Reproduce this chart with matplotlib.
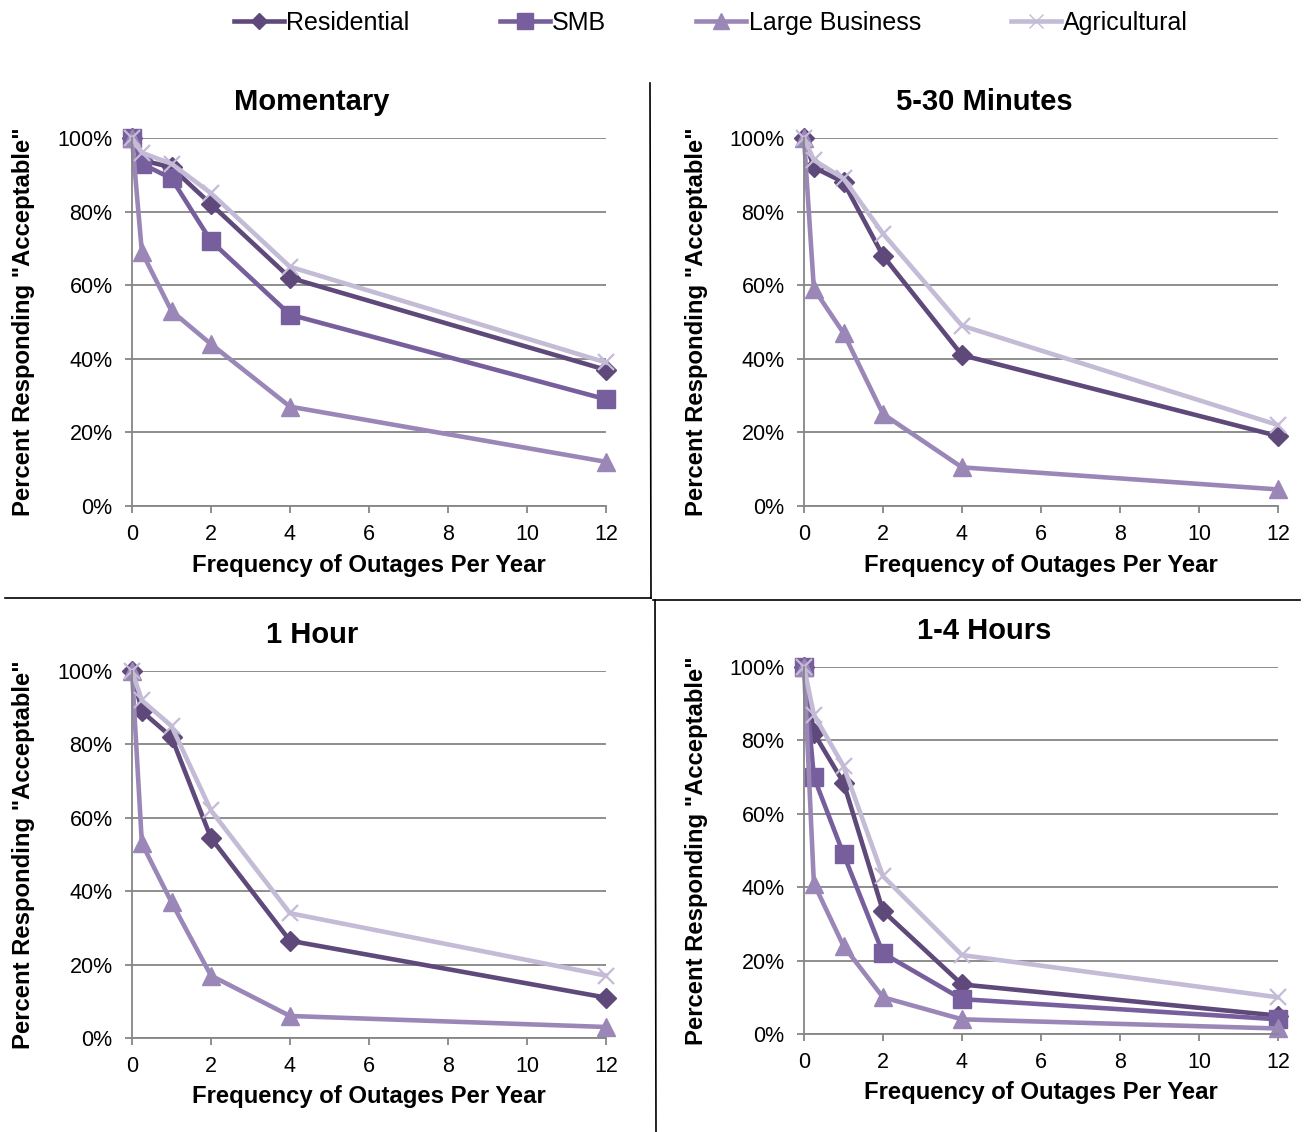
import matplotlib
matplotlib.use("Agg")
from matplotlib import pyplot as plt
from matplotlib.lines import Line2D

plt.rcParams['font.family'] = ['Liberation Sans', 'DejaVu Sans']

# outage frequencies per year
freq = [0, 0.25, 1, 2, 4, 12]

series = ['Residential', 'SMB', 'Large Business', 'Agricultural']
colors = ['#5f497a', '#775f9d', '#9b87b7', '#c4bbd6']
markers = ['D', 's', '^', 'x']
msizes = [10, 13.5, 13, 12]

panels = ['Momentary', '5-30 Minutes', '1 Hour', '1-4 Hours']

# percent responding "acceptable" per panel, one list per customer class
momentary_res = [100, 94, 92, 82, 62, 37]
momentary_smb = [100, 93, 89, 72, 52, 29]
momentary_large = [100, 69, 53, 44, 27, 12]
momentary_agri = [100, 96, 93, 85, 65, 39]

min530_res = [100, 92, 88, 68, 41, 19]
min530_smb = None
min530_large = [100, 59, 47, 25, 10.5, 4.5]
min530_agri = [100, 94, 89, 74, 49, 22]

hour1_res = [100, 89, 82, 54.5, 26.5, 11]
hour1_smb = None
hour1_large = [100, 53, 37, 17, 6, 3]
hour1_agri = [100, 92, 85, 62, 34, 17]

hour14_res = [100, 82, 68.5, 33.5, 13.5, 5]
hour14_smb = [100, 70, 49, 22, 9.5, 4]
hour14_large = [100, 41, 24, 10, 4, 1.5]
hour14_agri = [100, 87, 73, 43, 21.5, 10]

data = [
    [momentary_res, momentary_smb, momentary_large, momentary_agri],
    [min530_res, min530_smb, min530_large, min530_agri],
    [hour1_res, hour1_smb, hour1_large, hour1_agri],
    [hour14_res, hour14_smb, hour14_large, hour14_agri],
]

W, H = 1306, 1132
fig = plt.figure(figsize=(W / 100, H / 100), dpi=100)

# axes boxes in pixels: left, top, right, bottom
boxes = [(132, 138, 606, 506), (804, 138, 1278, 506),
         (132, 671, 606, 1038), (804, 667, 1278, 1034)]
title_pos = [(312, 102), (984, 102), (312, 635), (984, 631)]

grid_c = '#868686'
for i, (l, t, r, b) in enumerate(boxes):
    ax = fig.add_axes([l / W, 1 - b / H, (r - l) / W, (b - t) / H])
    for s, vals in enumerate(data[i]):
        if vals is None:
            continue
        ax.plot(freq, vals, color=colors[s], lw=3.3, marker=markers[s],
                ms=msizes[s], mec=colors[s], mfc=colors[s],
                mew=1.6 if markers[s] == 'x' else 1, clip_on=False)
    ax.set_xlim(0, 12)
    ax.set_ylim(0, 100)
    ax.set_xticks(range(0, 13, 2))
    ax.set_yticks(range(0, 101, 20))
    ax.set_yticklabels([f'{v}%' for v in range(0, 101, 20)])
    ax.yaxis.grid(True, color=grid_c, lw=1.3)
    ax.set_axisbelow(True)
    for sp in ['top', 'right']:
        ax.spines[sp].set_visible(False)
    for sp in ['left', 'bottom']:
        ax.spines[sp].set_color(grid_c)
        ax.spines[sp].set_linewidth(1.3)
    ax.tick_params(colors=grid_c, labelcolor='black', labelsize=15.5,
                   length=5, width=1.3)
    ax.tick_params(axis='x', pad=8)
    ax.tick_params(axis='y', pad=9)
    ax.set_xlabel('Frequency of Outages Per Year', fontsize=17.2,
                  fontweight='bold', va='center')
    ax.set_ylabel('Percent Responding "Acceptable"', fontsize=17.2,
                  fontweight='bold', va='center')
    ax.xaxis.set_label_coords(237 / 474, -59 / (b - t))
    ax.yaxis.set_label_coords(-108 / 474, 0.5)
    tx, ty = title_pos[i]
    fig.text(tx / W, 1 - ty / H, panels[i], fontsize=21, fontweight='bold',
             ha='center', va='center')

# quadrant dividers
def seg(x0, y0, x1, y1):
    fig.add_artist(Line2D([x0 / W, x1 / W], [1 - y0 / H, 1 - y1 / H],
                          color='black', lw=1.2))

seg(650, 83, 651, 598)
seg(655, 600, 656, 1132)
seg(5, 598, 651, 598)
seg(653, 600, 1300, 600)

handles = [Line2D([], [], color=colors[s], lw=3.3, marker=markers[s],
                  ms=msizes[s] * 0.85, mec=colors[s], mfc=colors[s])
           for s in range(4)]
fig.legend(handles, series, loc='center', bbox_to_anchor=(711 / W, 1 - 23 / H),
           ncol=4, frameon=False, fontsize=18, handlelength=2.0,
           handletextpad=0.1, columnspacing=3.6)

fig.savefig('out.png', dpi=100)
